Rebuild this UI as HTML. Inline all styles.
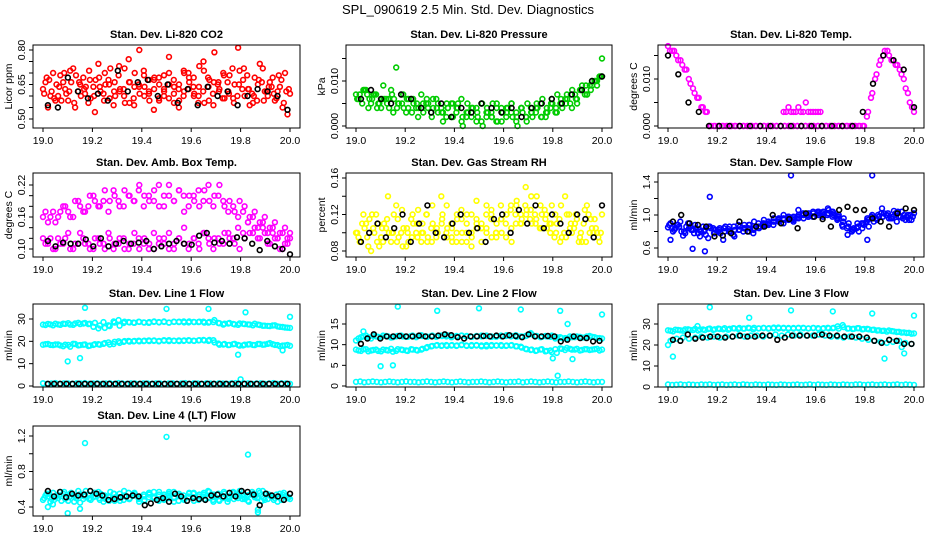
<!DOCTYPE html>
<html><head><meta charset="utf-8"><style>
html,body{margin:0;padding:0;background:#fff;}
svg{display:block;font-family:"Liberation Sans",sans-serif;}
</style></head><body>
<svg id="chart" width="936" height="540" viewBox="0 0 936 540">
<text x="468" y="14" text-anchor="middle" font-size="13">SPL_090619  2.5 Min. Std. Dev. Diagnostics</text>
</svg>
<script>
// ---- data (y values; times evenly spread across each series' time span) ----
const xTicks = [19.0, 19.2, 19.4, 19.6, 19.8, 20.0];
const xTickLabels = ["19.0","19.2","19.4","19.6","19.8","20.0"];

const co2RedA = [0.63,0.55,0.70,0.60,0.66,0.58,0.72,0.62,0.68,0.57,0.64,0.74,0.61,0.67,0.56,0.69,0.63,0.76,0.59,0.65,0.71,0.62,0.54,0.68,0.60,0.77,0.64,0.58,0.70,0.66,0.61,0.73,0.57,0.67,0.79,0.63,0.59,0.69,0.65,0.71,0.60,0.56,0.68,0.74,0.62,0.66,0.58,0.64,0.70,0.61];
const co2RedB = [0.66,0.60,0.58,0.69,0.63,0.71,0.55,0.65,0.61,0.67,0.53,0.64,0.70,0.59,0.66,0.62,0.72,0.57,0.64,0.80,0.60,0.67,0.63,0.58,0.69,0.65,0.61,0.55,0.71,0.63,0.68,0.60,0.75,0.64,0.56,0.66,0.70,0.62,0.59,0.81,0.67,0.63,0.57,0.65,0.72,0.60,0.68,0.62,0.55,0.52];
const co2RedC = [0.61,0.67,0.59,0.64,0.70,0.62,0.57,0.66,0.63,0.71,0.60,0.68,0.58,0.65,0.62,0.73,0.60,0.66,0.56,0.64,0.69,0.61,0.67,0.59,0.63,0.70,0.57,0.65,0.62,0.68,0.60,0.64,0.71,0.58,0.66,0.62,0.69,0.61,0.57,0.65,0.72,0.63,0.60,0.67,0.58,0.64,0.61,0.69,0.57,0.63];
const co2RedD = [0.68,0.62,0.65,0.58,0.61,0.66,0.69,0.60,0.64,0.59,0.67,0.62,0.65,0.72,0.60,0.63,0.57,0.66,0.70,0.61,0.64,0.58,0.68,0.65,0.62,0.59,0.67,0.63,0.60,0.70,0.64,0.57,0.62,0.68,0.61,0.65,0.59,0.66,0.72,0.60,0.63,0.69,0.61,0.58,0.66,0.62,0.64,0.59,0.67,0.62];
const co2Black = [0.56,0.55,0.68,0.62,0.59,0.61,0.58,0.71,0.62,0.66,0.67,0.60,0.65,0.57,0.63,0.56,0.64,0.60,0.62,0.56,0.60,0.63,0.62,0.60,0.54];

const presGreenA = [0.007,0.006,0.008,0.005,0.007,0.004,0.006,0.008,0.013,0.007,0.003,0.006,0.004,0.007,0.005,0.003,0.006,0.004,0.002,0.005,0.003,0.006,0.002,0.004,0.001,0.005,0.003,0.002,0.004,0.001,0.003,0.005,0.002,0.004,0.001,0.003,0.005,0.002,0.004,0.006,0.003,0.005,0.007,0.004,0.006,0.008,0.007,0.009,0.010,0.011];
const presGreenB = [0.006,0.008,0.004,0.007,0.005,0.009,0.006,0.003,0.005,0.007,0.004,0.006,0.002,0.005,0.004,0.006,0.003,0.001,0.004,0.002,0.005,0.000,0.003,0.004,0.002,0.000,0.003,0.005,0.001,0.003,0.004,0.002,0.000,0.003,0.005,0.002,0.004,0.006,0.003,0.005,0.007,0.004,0.006,0.008,0.005,0.009,0.007,0.010,0.009,0.015];
const presGreenC = [0.006,0.005,0.007,0.006,0.004,0.006,0.005,0.007,0.004,0.005,0.006,0.003,0.005,0.004,0.006,0.002,0.004,0.003,0.005,0.002,0.004,0.001,0.003,0.002,0.004,0.001,0.002,0.003,0.001,0.004,0.002,0.003,0.001,0.004,0.002,0.003,0.004,0.002,0.003,0.005,0.004,0.006,0.005,0.007,0.006,0.008,0.009,0.008,0.010,0.011];
const presGreenD = [0.007,0.008,0.006,0.007,0.005,0.006,0.004,0.006,0.005,0.004,0.006,0.005,0.004,0.003,0.005,0.004,0.005,0.003,0.004,0.005,0.004,0.002,0.005,0.004,0.003,0.005,0.004,0.002,0.005,0.003,0.004,0.005,0.003,0.004,0.002,0.004,0.003,0.005,0.002,0.004,0.003,0.005,0.006,0.005,0.007,0.008,0.007,0.009,0.010,0.011];
const presBlack = [0.006,0.008,0.006,0.005,0.007,0.006,0.004,0.003,0.005,0.002,0.004,0.003,0.005,0.004,0.003,0.004,0.002,0.004,0.005,0.006,0.005,0.007,0.008,0.010,0.011];

const tempMagA = [0.017,0.016,0.015,0.014,0.012,0.010,0.008,0.006,0.004,0.003,0,0,0,0,0,0,0,0,0,0,0,0,0,0,0,0,0,0,0,0,0,0,0,0,0,0,0,0,0,0,0,0,0,0,0,0,0,0,0.003,0.007,0.011,0.014,0.016,0.015,0.014,0.013,0.011,0.008,0.005,0.003];
const tempMagC = [0.016,0.016,0.014,0.013,0.012,0.009,0.007,0.006,0.004,0.003,0,0,0,0,0,0,0,0,0,0,0,0,0,0,0,0,0,0,0,0,0,0,0,0,0,0,0,0,0,0,0,0,0,0,0,0,0,0,0.002,0.006,0.010,0.013,0.015,0.016,0.014,0.013,0.012,0.010,0.007,0.004];
const tempMagB = [0.003,0.003,0.004,0.003,0.003,0.003,0.004,0.003,0.003,0.005,0.003,0.003,0.003,0.003,0.003,0.003];
const tempBlack = [0.015,0.011,0.005,0.003,0,0,0,0,0,0,0,0,0,0,0,0,0,0,0,0.003,0.009,0.015,0.014,0.012,0.004];

const boxMagUpper = [0.16,0.15,0.17,0.16,0.18,0.17,0.16,0.19,0.17,0.18,0.20,0.18,0.19,0.17,0.21,0.19,0.18,0.20,0.19,0.21,0.18,0.20,0.19,0.22,0.18,0.20,0.19,0.21,0.17,0.20,0.19,0.18,0.21,0.19,0.20,0.22,0.18,0.19,0.17,0.19,0.18,0.16,0.17,0.15,0.16,0.14,0.15,0.13,0.14,0.12];
const boxMagUpper2 = [0.17,0.16,0.15,0.17,0.18,0.16,0.19,0.18,0.17,0.20,0.19,0.18,0.21,0.19,0.20,0.18,0.21,0.20,0.19,0.22,0.20,0.19,0.21,0.18,0.20,0.22,0.19,0.21,0.20,0.18,0.20,0.21,0.19,0.22,0.18,0.20,0.19,0.17,0.18,0.16,0.17,0.15,0.16,0.14,0.15,0.13,0.14,0.12,0.13,0.12];
const boxMagLower = [0.12,0.11,0.10,0.12,0.11,0.13,0.10,0.11,0.12,0.11,0.10,0.12,0.11,0.13,0.10,0.11,0.12,0.10,0.11,0.12,0.11,0.10,0.13,0.11,0.12,0.10,0.11,0.12,0.14,0.11,0.12,0.10,0.13,0.11,0.12,0.11,0.13,0.12,0.11,0.10,0.12,0.13,0.14,0.12,0.13,0.11,0.12,0.10,0.11,0.13];
const boxMagLower2 = [0.11,0.12,0.10,0.11,0.12,0.10,0.11,0.13,0.11,0.10,0.12,0.11,0.10,0.12,0.11,0.12,0.10,0.11,0.13,0.10,0.12,0.11,0.10,0.12,0.11,0.13,0.10,0.12,0.11,0.10,0.12,0.11,0.13,0.12,0.10,0.12,0.11,0.13,0.12,0.14,0.13,0.15,0.13,0.12,0.14,0.11,0.13,0.12,0.10,0.11];
const boxBlack = [0.115,0.105,0.112,0.11,0.11,0.118,0.105,0.12,0.105,0.11,0.115,0.11,0.112,0.115,0.10,0.105,0.11,0.115,0.11,0.108,0.125,0.13,0.112,0.115,0.11,0.122,0.12,0.11,0.098,0.115,0.105,0.10,0.09];

const rhYellowA = [0.10,0.09,0.11,0.08,0.12,0.095,0.105,0.09,0.13,0.10,0.085,0.115,0.10,0.09,0.12,0.105,0.095,0.14,0.10,0.11,0.09,0.125,0.10,0.085,0.115,0.105,0.13,0.095,0.11,0.10,0.12,0.09,0.135,0.115,0.125,0.11,0.14,0.12,0.105,0.13,0.11,0.095,0.12,0.10,0.115,0.09,0.13,0.105,0.10,0.12];
const rhYellowB = [0.095,0.12,0.085,0.105,0.11,0.09,0.14,0.10,0.115,0.085,0.10,0.12,0.095,0.11,0.09,0.13,0.10,0.115,0.095,0.105,0.12,0.09,0.11,0.10,0.135,0.09,0.105,0.12,0.10,0.115,0.095,0.13,0.11,0.12,0.15,0.125,0.11,0.13,0.115,0.10,0.12,0.09,0.14,0.105,0.11,0.095,0.125,0.10,0.115,0.09];
const rhYellowC = [0.10,0.11,0.095,0.12,0.09,0.105,0.115,0.10,0.09,0.125,0.105,0.095,0.11,0.10,0.12,0.09,0.105,0.11,0.13,0.095,0.10,0.115,0.09,0.12,0.105,0.11,0.10,0.125,0.095,0.115,0.12,0.105,0.13,0.11,0.12,0.14,0.115,0.105,0.12,0.11,0.10,0.13,0.095,0.11,0.12,0.10,0.09,0.115,0.105,0.10];
const rhYellowD = [0.09,0.105,0.115,0.10,0.085,0.11,0.10,0.12,0.095,0.105,0.09,0.11,0.125,0.10,0.095,0.11,0.10,0.12,0.105,0.09,0.115,0.10,0.12,0.095,0.11,0.105,0.12,0.115,0.10,0.13,0.11,0.125,0.12,0.11,0.13,0.115,0.12,0.105,0.125,0.11,0.095,0.115,0.10,0.12,0.105,0.09,0.11,0.12,0.10,0.095];
const rhBlack = [0.09,0.10,0.11,0.095,0.105,0.12,0.09,0.11,0.13,0.10,0.095,0.11,0.12,0.10,0.105,0.09,0.115,0.12,0.10,0.125,0.11,0.13,0.105,0.12,0.11,0.10,0.12,0.115,0.095,0.13];

const flowBlueA = [0.85,0.80,0.88,0.75,0.90,0.82,0.78,0.86,0.72,0.84,0.80,0.70,0.83,0.76,0.88,0.80,0.84,0.78,0.90,0.86,0.92,0.88,0.95,0.90,0.98,0.94,1.0,0.96,1.02,0.98,1.04,1.0,1.06,1.02,1.0,0.96,0.90,0.84,0.80,0.88,0.86,0.92,0.98,1.02,0.96,1.05,0.98,1.0,0.94,1.02];
const flowBlueB = [0.90,0.84,0.92,0.78,0.86,0.88,0.74,0.82,0.86,0.78,0.84,0.80,0.86,0.74,0.82,0.88,0.80,0.92,0.84,0.94,0.90,0.96,0.92,1.0,0.96,0.92,1.06,1.0,0.98,1.04,1.02,0.98,1.08,1.04,0.96,0.86,0.76,0.82,0.90,0.84,0.96,1.0,0.94,1.08,1.0,0.96,0.92,1.04,0.98,0.94];
const flowBlueC = [0.88,0.82,0.86,0.80,0.84,0.78,0.82,0.80,0.86,0.78,0.82,0.84,0.80,0.86,0.82,0.84,0.88,0.82,0.86,0.90,0.88,0.92,0.94,0.96,0.94,0.98,0.96,1.0,0.98,1.02,1.0,1.04,1.02,1.0,0.98,0.92,0.86,0.82,0.86,0.90,0.94,0.96,1.0,0.98,1.02,0.98,1.04,0.96,1.0,0.98];
const flowBlueD = [0.84,0.88,0.80,0.86,0.82,0.84,0.80,0.76,0.84,0.82,0.78,0.86,0.80,0.82,0.86,0.84,0.88,0.84,0.86,0.88,0.90,0.92,0.96,0.94,0.98,0.96,0.98,1.02,1.0,0.98,1.04,1.02,1.0,0.98,0.94,0.88,0.84,0.80,0.84,0.90,0.92,0.98,0.96,1.02,1.0,0.96,1.02,0.98,0.94,1.0];
const flowBlueOutT = [19.17,19.50,19.83,19.10,19.15,19.81,19.01];
const flowBlueOutV = [1.22,1.48,1.48,0.59,0.56,0.70,0.70];
const flowBlack = [0.92,1.0,0.90,0.88,0.86,0.74,0.75,0.78,0.92,0.80,0.86,0.86,1.0,0.90,0.95,0.84,1.02,0.98,0.95,0.86,1.06,1.10,1.06,1.06,0.96,0.92,0.86,1.02,1.08,1.06];

const l1Upper = [27.5,27.8,27.2,27.6,27.9,28.1,27.4,28.3,28.0,27.7,26.5,25.8,28.6,27.2,28.9,29.5,28.2,28.6,28.4,28.8,28.5,28.3,28.7,28.6,28.9,28.4,28.7,28.8,28.5,28.9,28.6,28.8,28.4,28.7,29.5,28.1,27.9,28.2,27.6,28.0,27.7,27.5,27.9,27.3,27.0,26.8,27.2,26.5,26.2,26.0];
const l1Upper2 = [27.3,27.6,27.9,27.4,27.8,27.5,28.0,27.7,28.2,27.9,28.3,27.1,26.0,26.8,28.4,27.0,28.8,28.5,28.3,28.7,28.4,28.6,28.9,28.5,28.7,28.4,28.8,28.6,28.9,28.5,28.7,28.6,28.8,28.4,28.6,28.2,27.5,28.0,27.8,27.4,27.9,27.6,27.2,27.5,27.0,26.9,27.1,26.7,26.4,26.1];
const l1Mid = [18.5,18.8,18.3,18.6,17.8,18.4,18.9,18.2,18.5,17.9,18.4,18.7,18.9,19.5,18.8,20.0,19.8,20.2,20.0,20.3,20.1,20.4,20.2,20.0,20.3,20.5,20.2,20.1,20.4,20.3,20.2,20.5,20.4,20.6,19.5,18.5,18.8,18.4,18.9,18.1,18.5,18.7,18.3,18.8,18.6,19.2,18.4,17.8,18.2,18.0];
const l1Mid2 = [18.7,18.4,18.6,18.2,18.5,17.6,18.8,18.3,18.6,18.1,18.7,18.5,19.2,18.6,19.8,19.3,20.1,19.9,20.2,20.0,20.3,20.1,20.4,20.2,20.5,20.1,20.3,20.4,20.2,20.5,20.3,20.4,20.6,20.2,20.5,19.0,18.6,18.3,18.7,18.4,18.2,18.6,18.4,18.8,18.5,18.9,18.7,18.3,18.1,18.4];
const l1Low = [1.2,1.0,1.1,1.3,1.0,1.2,1.1,1.0,1.2,1.1,1.3,1.0,1.1,1.2,1.0,1.1,1.2,1.0,1.3,1.1,1.0,1.2,1.1,1.0,1.2,1.1,1.0,1.2,1.1,1.0,1.1,1.2,1.0,1.1,1.3,1.0,1.2,1.1,1.0,1.2,1.1,1.0,1.2,1.1,1.0,1.2,1.3,1.0,1.1,1.2,1.0,1.1,1.2,1.0,1.1,1.3,1.0,1.2,1.1,1.0];
const l1OutT = [19.10,19.15,19.17,19.50,19.67,19.82,19.80,19.79,19.97,20.0];
const l1OutV = [11,12.5,35,34.5,34.5,33,3,14,16,31];
const l1Black = [1.0,1.0,1.0,1.0,1.0,1.0,1.0,1.0,1.0,1.0,1.0,1.0,1.0,1.0,1.0,1.0,1.0,1.0,1.0,1.0,1.0,1.0,1.0,1.0,1.0,1.0,1.0,1.0,1.0,1.0,1.0,1.0,1.0,1.0,1.0,1.0,1.0,1.0,1.0,1.0];

const l2Upper = [11.0,11.8,12.2,11.5,12.0,11.8,12.1,11.7,12.0,12.2,11.9,12.1,11.8,12.3,12.0,12.1,11.9,12.2,12.0,11.8,12.1,12.2,12.0,11.9,12.1,12.0,12.2,11.9,12.1,12.0,12.3,12.1,11.9,12.0,12.2,12.5,12.1,11.9,12.0,12.2,11.8,11.6,11.5,11.8,12.0,11.7,12.0,11.9,11.6,11.5];
const l2Upper2 = [11.5,12.0,11.8,12.1,11.9,12.2,12.0,11.8,12.1,12.0,11.9,12.2,12.0,12.1,11.9,12.2,12.0,12.1,12.3,11.9,12.0,12.2,12.1,11.9,12.0,12.2,12.1,12.0,11.9,12.2,12.1,12.0,12.3,12.0,12.1,12.8,12.0,11.8,12.1,11.9,11.5,11.8,11.6,12.0,11.8,11.9,11.7,12.1,11.8,11.6];
const l2Mid = [8.8,8.5,8.9,8.6,8.8,8.4,8.7,9.0,8.5,8.8,8.6,8.9,8.7,8.8,9.2,9.6,9.8,9.7,9.9,9.8,9.7,9.9,9.8,9.7,9.9,9.8,9.6,9.9,9.8,9.7,9.8,9.9,9.6,9.3,8.9,8.8,8.6,8.9,8.5,8.2,8.0,9.0,9.2,8.8,9.0,8.7,8.9,8.8,9.0,8.8];
const l2Mid2 = [8.6,8.9,8.4,8.7,8.5,8.8,8.6,8.3,8.9,8.7,8.5,8.8,8.6,9.0,9.4,9.7,9.9,9.8,9.7,9.9,9.8,10.0,9.7,9.9,9.8,9.6,9.9,9.7,9.8,9.9,9.7,9.8,9.6,9.5,9.0,8.7,8.5,8.8,8.4,8.6,8.9,9.1,8.7,9.0,8.8,8.6,8.9,8.7,8.9,8.6];
const l2Low = [1.0,1.1,0.9,1.0,1.1,1.0,0.9,1.0,1.1,1.0,0.9,1.0,1.1,1.0,1.0,0.9,1.0,1.1,1.0,0.9,1.0,1.1,1.0,0.9,1.0,1.1,1.0,0.9,1.0,1.0,1.1,1.0,0.9,1.0,1.1,1.0,0.9,1.0,1.0,1.1,0.9,1.0,1.1,1.0,0.9,1.0,1.1,1.0,0.9,1.0,1.0,1.1,1.0,0.9,1.0,1.1,1.0,0.9,1.0,1.0];
const l2OutT = [19.15,19.10,19.17,19.33,19.50,19.67,19.83,19.86,19.80,19.88,19.82,20.0,19.03];
const l2OutV = [5.0,4.8,19.2,18.2,18.8,18.5,18.2,15.0,6.7,6.5,2.5,17.3,13.2];
const l2Black = [10.2,11.5,12.5,11.5,12.0,12.0,12.1,12.0,12.0,12.2,12.0,12.0,12.2,12.5,12.3,11.8,11.5,12.0,12.0,12.1,12.0,12.2,12.0,12.3,12.1,11.8,12.5,12.0,12.0,12.1,12.0,10.8,11.2,12.0,11.6,11.6,10.8,10.9];

const l3Upper = [27.0,26.5,27.2,26.8,27.5,27.1,26.9,27.4,27.6,27.2,27.8,27.5,27.3,28.0,27.6,27.8,28.2,27.5,27.9,28.1,27.8,28.0,28.3,27.9,28.1,27.8,28.2,28.0,27.9,28.1,27.7,28.0,27.9,28.2,27.8,28.5,27.9,27.7,28.0,27.6,27.5,27.3,27.0,26.8,26.9,26.5,26.3,26.0,25.8,25.5];
const l3Upper2 = [26.8,27.3,27.0,27.5,27.2,27.7,27.4,27.1,27.8,27.5,27.6,28.0,27.7,27.9,28.1,27.8,28.0,28.2,27.9,28.1,28.0,28.3,27.9,28.2,27.8,28.1,28.0,28.2,27.9,28.1,28.0,27.8,28.2,28.0,28.9,29.5,27.8,27.6,28.0,27.5,27.7,27.2,26.9,26.7,26.4,26.6,26.2,25.9,25.7,25.4];
const l3Mid = [22,23,23.5,23,23.5,24,23.5,24,23.5,24,24,24.5,24,24.5,24.5,24,24.5,25,24.5,25,24.5,25,24.5,24.5,25,24.5,24,24,23.5,24,23.5,23,22.5,22,21.5,21,21.5,22,21,20.5];
const l3Low = [1.2,1.0,1.1,1.3,1.0,1.2,1.1,1.0,1.2,1.1,1.3,1.0,1.1,1.2,1.0,1.1,1.2,1.0,1.3,1.1,1.0,1.2,1.1,1.0,1.2,1.1,1.0,1.2,1.1,1.0,1.1,1.2,1.0,1.1,1.3,1.0,1.2,1.1,1.0,1.2,1.1,1.0,1.2,1.1,1.0,1.2,1.3,1.0,1.1,1.2,1.0,1.1,1.2,1.0,1.1,1.3,1.0,1.2,1.1,1.0];
const l3OutT = [19.0,19.02,19.17,19.33,19.50,19.67,19.83,19.88,19.96,19.95,20.0,19.12];
const l3OutV = [20,14.5,38,33,36.5,36,35,13.5,16,19,34,29];
const l3Black = [22.5,22.0,25.0,23.0,23.5,24.0,24.0,23.5,24.0,24.5,24.0,24.0,24.5,24.5,22.5,23.5,24.5,24.5,24.5,24.5,25.0,24.5,24.5,24.0,24.0,24.0,23.5,22.0,21.0,22.5,22.0,20.5,20.5];

const l4CyanA = [0.48,0.52,0.56,0.50,0.55,0.47,0.53,0.58,0.49,0.54,0.51,0.57,0.46,0.52,0.55,0.50,0.48,0.56,0.53,0.49,0.54,0.51,0.57,0.47,0.52,0.55,0.50,0.53,0.48,0.56,0.51,0.54,0.49,0.57,0.52,0.47,0.55,0.50,0.53,0.58,0.49,0.54,0.51,0.56,0.48,0.53,0.50,0.55,0.52,0.49];
const l4CyanB = [0.53,0.46,0.51,0.57,0.49,0.55,0.52,0.45,0.54,0.50,0.56,0.48,0.53,0.51,0.47,0.55,0.52,0.49,0.56,0.50,0.47,0.54,0.51,0.57,0.49,0.53,0.46,0.55,0.50,0.52,0.56,0.48,0.54,0.51,0.46,0.55,0.52,0.49,0.57,0.50,0.53,0.47,0.55,0.51,0.58,0.49,0.52,0.46,0.54,0.50];
const l4CyanC = [0.50,0.55,0.48,0.53,0.57,0.51,0.46,0.54,0.52,0.49,0.56,0.50,0.53,0.47,0.55,0.51,0.58,0.49,0.53,0.46,0.52,0.56,0.50,0.54,0.48,0.57,0.51,0.53,0.49,0.55,0.47,0.52,0.56,0.50,0.54,0.48,0.57,0.52,0.49,0.55,0.51,0.46,0.53,0.58,0.50,0.54,0.48,0.52,0.56,0.51];
const l4CyanD = [0.55,0.49,0.53,0.47,0.51,0.56,0.50,0.54,0.58,0.48,0.52,0.55,0.49,0.57,0.51,0.47,0.53,0.50,0.55,0.52,0.48,0.56,0.51,0.49,0.54,0.50,0.57,0.47,0.53,0.51,0.55,0.49,0.52,0.58,0.48,0.54,0.50,0.46,0.56,0.52,0.49,0.53,0.57,0.50,0.47,0.55,0.51,0.54,0.48,0.52];
const l4OutT = [19.02,19.04,19.10,19.15,19.17,19.50,19.83,19.87,19.87];
const l4OutV = [0.40,0.43,0.33,0.38,1.12,1.19,0.99,0.37,0.34];
const l4Black = [0.58,0.52,0.57,0.51,0.55,0.53,0.54,0.58,0.55,0.53,0.48,0.49,0.51,0.52,0.53,0.52,0.42,0.44,0.48,0.50,0.46,0.55,0.52,0.47,0.50,0.49,0.48,0.53,0.54,0.52,0.56,0.52,0.58,0.57,0.54,0.42,0.55,0.53,0.52,0.48,0.55];

// ---- layout ----
const cols = [[33,300],[346,612],[658,924]];
const rows = [[45,128],[173,257],[304,387],[426,516]];
const CY = "#00ffff";

const panels = [
 {id:"co2",title:"Stan. Dev. Li-820 CO2",ylab:"Licor ppm",c:0,r:0,ya:[0.50,119],yb:[0.80,50],ticks:[0.50,0.55,0.60,0.65,0.70,0.75,0.80],labels:["0.50","","","0.65","","","0.80"],
  series:[[co2RedA,"#ff0000"],[co2RedB,"#ff0000",19.01,19.99],[co2RedC,"#ff0000",19.005,19.995],[co2RedD,"#ff0000",19.015,19.985],[co2Black,"#000",19.02,19.99]]},
 {id:"pressure",title:"Stan. Dev. Li-820 Pressure",ylab:"kPa",c:1,r:0,ya:[0,126],yb:[0.010,81],ticks:[0,0.005,0.010,0.015],labels:["0.000","","0.010",""],
  series:[[presGreenA,"#00cc00"],[presGreenB,"#00cc00",19.01,20.0],[presGreenC,"#00cc00",19.005,19.995],[presGreenD,"#00cc00",19.015,19.99],[presBlack,"#000",19.02,20.0]]},
 {id:"temp",title:"Stan. Dev. Li-820 Temp.",ylab:"degrees C",c:2,r:0,ya:[0,126],yb:[0.010,79],ticks:[0,0.005,0.010,0.015],labels:["0.000","","0.010",""],
  series:[[tempMagA,"#ff00ff"],[tempMagC,"#ff00ff",19.008,19.992],[tempMagB,"#ff00ff",19.47,19.62],[tempBlack,"#000"]]},
 {id:"boxtemp",title:"Stan. Dev. Amb. Box Temp.",ylab:"degrees C",c:0,r:1,ya:[0.10,249],yb:[0.22,185],ticks:[0.10,0.12,0.14,0.16,0.18,0.20,0.22],labels:["0.10","","","0.16","","","0.22"],
  series:[[boxMagUpper,"#ff00ff"],[boxMagUpper2,"#ff00ff",19.01,19.99],[boxMagLower,"#ff00ff"],[boxMagLower2,"#ff00ff",19.01,19.99],[boxBlack,"#000",19.02,20.0]]},
 {id:"rh",title:"Stan. Dev. Gas Stream RH",ylab:"percent",c:1,r:1,ya:[0.08,251],yb:[0.16,178],ticks:[0.08,0.10,0.12,0.14,0.16],labels:["0.08","","0.12","","0.16"],
  series:[[rhYellowA,"#ffff00"],[rhYellowB,"#ffff00",19.01,19.99],[rhYellowC,"#ffff00",19.005,19.995],[rhYellowD,"#ffff00",19.015,19.985],[rhBlack,"#000",19.02,20.0]]},
 {id:"sampleflow",title:"Stan. Dev. Sample Flow",ylab:"ml/min",c:2,r:1,ya:[0.6,248],yb:[1.4,182],ticks:[0.6,0.8,1.0,1.2,1.4],labels:["0.6","","1.0","","1.4"],
  series:[[flowBlueA,"#0000ff"],[flowBlueB,"#0000ff",19.01,19.99],[flowBlueC,"#0000ff",19.005,19.995],[flowBlueD,"#0000ff",19.015,19.985],[flowBlueOutV,"#0000ff",null,null,flowBlueOutT],[flowBlack,"#000",19.02,20.0]]},
 {id:"line1",title:"Stan. Dev. Line 1 Flow",ylab:"ml/min",c:0,r:2,ya:[0,386],yb:[30,319],ticks:[0,10,20,30],labels:["0","10","20","30"],
  series:[[l1Upper,CY],[l1Upper2,CY,19.01,19.99],[l1Mid,CY],[l1Mid2,CY,19.01,19.99],[l1Low,CY],[l1OutV,CY,null,null,l1OutT],[l1Black,"#000",19.02,19.99]]},
 {id:"line2",title:"Stan. Dev. Line 2 Flow",ylab:"ml/min",c:1,r:2,ya:[0,386],yb:[15,324],ticks:[0,5,10,15],labels:["0","5","10","15"],
  series:[[l2Upper,CY],[l2Upper2,CY,19.01,19.99],[l2Mid,CY],[l2Mid2,CY,19.01,19.99],[l2Low,CY],[l2OutV,CY,null,null,l2OutT],[l2Black,"#000",19.02,19.99]]},
 {id:"line3",title:"Stan. Dev. Line 3 Flow",ylab:"ml/min",c:2,r:2,ya:[0,387],yb:[30,324],ticks:[0,10,20,30],labels:["0","10","20","30"],
  series:[[l3Upper,CY],[l3Upper2,CY,19.01,19.99],[l3Mid,CY,19.01,19.99],[l3Low,CY],[l3OutV,CY,null,null,l3OutT],[l3Black,"#000",19.02,19.99]]},
 {id:"line4",title:"Stan. Dev. Line 4 (LT) Flow",ylab:"ml/min",c:0,r:3,ya:[0.4,507],yb:[1.2,436],ticks:[0.4,0.6,0.8,1.0,1.2],labels:["0.4","","0.8","","1.2"],
  series:[[l4CyanA,CY],[l4CyanB,CY,19.01,19.99],[l4CyanC,CY,19.005,19.995],[l4CyanD,CY,19.015,19.985],[l4OutV,CY,null,null,l4OutT],[l4Black,"#000",19.02,20.0]]}
];

const NS = "http://www.w3.org/2000/svg";
const svg = document.getElementById("chart");
function mk(tag, attrs, parent){
  const e = document.createElementNS(NS, tag);
  for (const k in attrs) e.setAttribute(k, attrs[k]);
  parent.appendChild(e);
  return e;
}

panels.forEach(p => {
  const [L,R] = cols[p.c], [T,B] = rows[p.r];
  const g = mk("g", {}, svg);
  
  
  const xs = v => (L+10) + (v-19.0)/(1.0)*((R-10)-(L+10));
  const ys = v => p.ya[1] + (v-p.ya[0])/(p.yb[0]-p.ya[0])*(p.yb[1]-p.ya[1]);

  const t = mk("text", {x:(L+R)/2, y:T-7, "text-anchor":"middle", "font-size":"11", "font-weight":"bold"}, g);
  t.textContent = p.title;
  
  

  const pg = mk("g", {fill:"none","stroke-width":"1.6"}, g);
  
  
  p.series.forEach(s => {
    const vals = s[0], col = s[1];
    const t0 = (s[2]!=null)? s[2] : 19.0, t1 = (s[3]!=null)? s[3] : 20.0;
    const times = s[4];
    vals.forEach((v, i) => {
      const tt = times ? times[i] : (vals.length>1 ? t0 + (t1-t0)*i/(vals.length-1) : t0);
      const c = mk("circle", {cx:xs(tt).toFixed(1), cy:ys(v).toFixed(1), r:"2.4", stroke:col}, pg);
      
      
    });
  });

  const fr = mk("rect", {x:L, y:T, width:R-L, height:B-T, fill:"none", stroke:"#000", "stroke-width":"1"}, g);
  
  

  const xa = mk("g", {}, g);
  
  
  xTicks.forEach((v,i) => {
    const x = xs(v);
    mk("line", {x1:x, x2:x, y1:B, y2:B+4, stroke:"#000"}, xa);
    const tl = mk("text", {x:x, y:B+16, "text-anchor":"middle", "font-size":"10.5"}, xa);
    tl.textContent = xTickLabels[i];
    
    
  });

  const ya = mk("g", {}, g);
  
  
  p.ticks.forEach((v,i) => {
    const y = ys(v);
    mk("line", {x1:L-4, x2:L, y1:y, y2:y, stroke:"#000"}, ya);
    if (p.labels[i]) {
      const tl = mk("text", {x:0, y:0, transform:`translate(${L-8},${y}) rotate(-90)`, "text-anchor":"middle", "font-size":"10.5"}, ya);
      tl.textContent = p.labels[i];
      
      
    }
  });
  const yl = mk("text", {x:0, y:0, transform:`translate(${L-21},${(T+B)/2}) rotate(-90)`, "text-anchor":"middle", "font-size":"10.5"}, g);
  yl.textContent = p.ylab;
  
  
});
</script>
</body></html>
